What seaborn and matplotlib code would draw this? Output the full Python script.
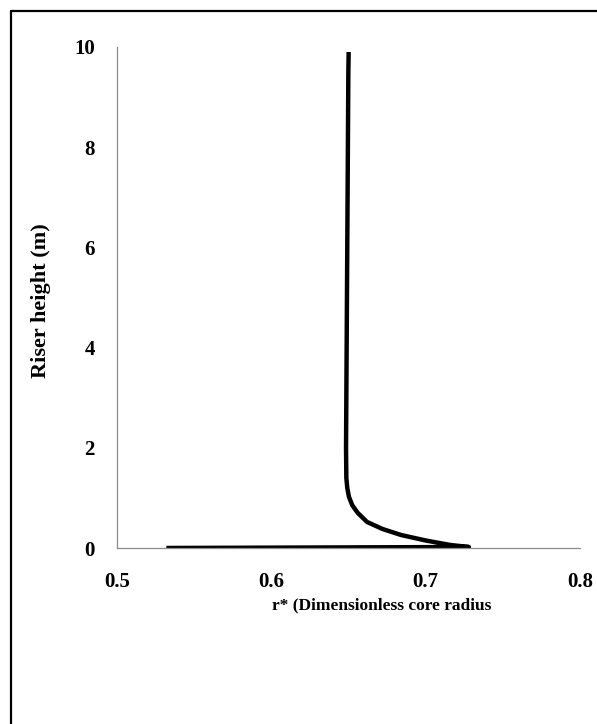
import matplotlib
matplotlib.use("Agg")
import matplotlib.pyplot as plt
import seaborn as sns
import pandas as pd
from matplotlib.lines import Line2D

# Data
r_star = [0.532, 0.728, 0.722, 0.716, 0.700, 0.684, 0.672, 0.662, 0.6560, 0.6525,
          0.6503, 0.6492, 0.6486, 0.6484, 0.6486, 0.6488, 0.6492, 0.6496, 0.6499, 0.6501]
height = [0.0, 0.02, 0.04, 0.06, 0.15, 0.26, 0.38, 0.52, 0.70, 0.85,
          1.02, 1.20, 1.40, 2.0, 3.0, 4.0, 6.0, 8.0, 9.5, 9.9]

x_ticks = [0.5, 0.6, 0.7, 0.8]
y_ticks = [0, 2, 4, 6, 8, 10]

df = pd.DataFrame({"r": r_star, "h": height})

sns.set_theme(style="white")
plt.rcParams['font.family'] = ['Liberation Serif', 'DejaVu Serif']

fig = plt.figure(figsize=(5.97, 7.24), dpi=100)
ax = fig.add_axes([117/597, 1-548/724, (580-117)/597, (548-47)/724])

sns.lineplot(data=df, x="r", y="h", sort=False, estimator=None, color="black",
             linewidth=3.2, ax=ax, solid_capstyle="butt")

ax.set_xlim(0.5, 0.8)
ax.set_ylim(0, 10)
ax.set_xticks(x_ticks)
ax.set_yticks(y_ticks)
ax.set_xticklabels([f"{v:.1f}" for v in x_ticks])
ax.set_yticklabels([str(v) for v in y_ticks])
ax.tick_params(axis="both", length=0, labelsize=15, colors="black")
ax.tick_params(axis="y", pad=16)
ax.tick_params(axis="x", pad=17)
for lbl in ax.get_xticklabels() + ax.get_yticklabels():
    lbl.set_fontweight("bold")

for s in ["top", "right"]:
    ax.spines[s].set_visible(False)
for s in ["left", "bottom"]:
    ax.spines[s].set_color("#8c8c8c")
    ax.spines[s].set_linewidth(0.9)

ax.set_xlabel("r* (Dimensionless core radius", fontsize=12.5, fontweight="bold", color="black")
ax.set_ylabel("Riser height (m)", fontsize=16, fontweight="bold", color="black")
ax.xaxis.set_label_coords((382-117)/463, (548-597)/501)
ax.yaxis.set_label_coords((51-117)/463, (548-301)/501)

# outer frame (top and left edges visible)
fig.add_artist(Line2D([11/597, 1.0], [1-10.5/724, 1-10.5/724], transform=fig.transFigure,
                      color="black", linewidth=1.6))
fig.add_artist(Line2D([11/597, 11/597], [0.0, 1-10.5/724], transform=fig.transFigure,
                      color="black", linewidth=1.6))

fig.savefig("out.png", dpi=100, facecolor="white")
